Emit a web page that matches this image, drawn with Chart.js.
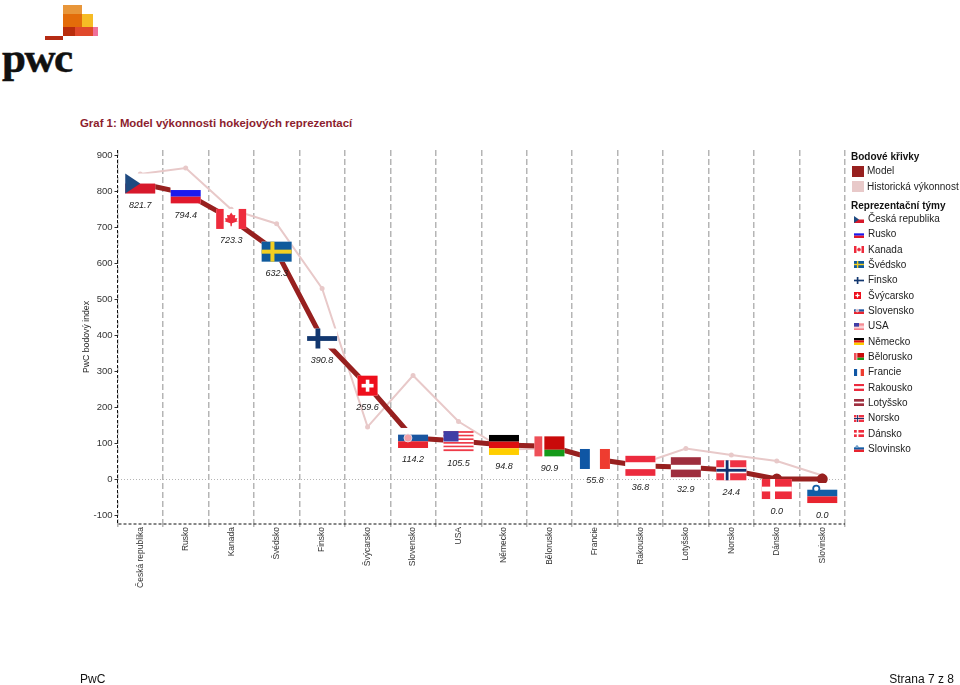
<!DOCTYPE html>
<html lang="cs">
<head>
<meta charset="utf-8">
<title>Graf 1</title>
<script src="https://cdn.jsdelivr.net/npm/chart.js@4"></script>
<style>
  html, body { margin: 0; padding: 0; background: #fff; }
  body { width: 960px; height: 685px; position: relative; overflow: hidden; font-family: "Liberation Sans", Arial, sans-serif; }
  #chartBox { position: absolute; left: 0; top: 0; width: 960px; height: 685px; }
  .abs { position: absolute; white-space: nowrap; line-height: 1; }
  .block { position: absolute; }
  .legendHead { font-size: 10px; font-weight: bold; color: #111; }
  .legendText { font-size: 10px; color: #222; }
</style>
</head>
<body>
<div class="block" style="left:63px;top:5px;width:19px;height:9px;background:#e8963a"></div>
<div class="block" style="left:63px;top:14px;width:19px;height:13px;background:#e36c0a"></div>
<div class="block" style="left:82px;top:14px;width:11px;height:13px;background:#f6bc25"></div>
<div class="block" style="left:63px;top:27px;width:12px;height:9px;background:#b92d0c"></div>
<div class="block" style="left:75px;top:27px;width:18px;height:9px;background:#e0492b"></div>
<div class="block" style="left:93px;top:27px;width:5px;height:9px;background:#f0709a"></div>
<div class="block" style="left:45px;top:36px;width:18px;height:4px;background:#b52b14"></div>
<div class="abs" style="left:2px;top:33px;font:bold 43px 'Liberation Serif',serif;letter-spacing:-1.5px;color:#111;-webkit-text-stroke:0.5px #111">pwc</div>
<div class="abs" style="left:80px;top:118px;font-size:11.4px;font-weight:bold;color:#8c1d2e">Graf 1: Model výkonnosti hokejových reprezentací</div>
<div id="chartBox"><canvas id="teamChart" width="960" height="685"></canvas></div>
<div id="legendBox"></div>
<div class="abs" style="left:80px;top:673px;font-size:12px;color:#111">PwC</div>
<div class="abs" style="right:6px;top:673px;font-size:12px;color:#111">Strana 7 z 8</div>

<script>
// Chart data
const teams = ["Česká republika", "Rusko", "Kanada", "Švédsko", "Finsko", "Švýcarsko", "Slovensko", "USA",
  "Německo", "Bělorusko", "Francie", "Rakousko", "Lotyšsko", "Norsko", "Dánsko", "Slovinsko"];
const modelValues = [821.7, 794.4, 723.3, 632.3, 390.8, 259.6, 114.2, 105.5, 94.8, 90.9, 55.8, 36.8, 32.9, 24.4, 0.0, 0.0];
const historicValues = [848, 865, 750, 710, 530, 145, 288, 160, 82, 85, 55, 42, 85, 67, 50, 10];
const yTickValues = [-100, 0, 100, 200, 300, 400, 500, 600, 700, 800, 900];
const curveNames = ["Model", "Historická výkonnost"];

const MODEL_COLOR = "#97201f";
const HISTORIC_COLOR = "#e8c9c9";

// Draws one flag inside the box x,y,w,h
function drawFlag(ctx, team, x, y, w, h) {
  const bandsH = (colors) => colors.forEach((c, i) => {
    ctx.fillStyle = c;
    ctx.fillRect(x, y + (h * i) / colors.length, w, h / colors.length);
  });
  const bandsV = (colors) => colors.forEach((c, i) => {
    ctx.fillStyle = c;
    ctx.fillRect(x + (w * i) / colors.length, y, w / colors.length, h);
  });
  const cross = (color, cx, t) => {
    ctx.fillStyle = color;
    ctx.fillRect(x + w * cx - t / 2, y, t, h);
    ctx.fillRect(x, y + h / 2 - t / 2, w, t);
  };

  ctx.save();
  ctx.fillStyle = "#fff";
  ctx.fillRect(x, y, w, h);
  switch (team) {
    case "Česká republika":
      ctx.fillStyle = "#d7192b";
      ctx.fillRect(x, y + h / 2, w, h / 2);
      ctx.fillStyle = "#1f4a80";
      ctx.beginPath();
      ctx.moveTo(x, y);
      ctx.lineTo(x + w / 2, y + h / 2);
      ctx.lineTo(x, y + h);
      ctx.fill();
      break;
    case "Rusko":
      bandsH(["#fff", "#1a1aee", "#e0182c"]);
      break;
    case "Kanada":
      ctx.fillStyle = "#ee2b3c";
      ctx.fillRect(x, y, w * 0.25, h);
      ctx.fillRect(x + w * 0.75, y, w * 0.25, h);
      ctx.beginPath();
      [[0.5, 0.18], [0.56, 0.32], [0.64, 0.3], [0.62, 0.46], [0.71, 0.46], [0.68, 0.58], [0.72, 0.62],
        [0.53, 0.72], [0.52, 0.86], [0.48, 0.86], [0.47, 0.72], [0.28, 0.62], [0.32, 0.58], [0.29, 0.46],
        [0.38, 0.46], [0.36, 0.3], [0.44, 0.32]].forEach((p) => ctx.lineTo(x + w * p[0], y + h * p[1]));
      ctx.closePath();
      ctx.fill();
      break;
    case "Švédsko":
      ctx.fillStyle = "#0f5a9c";
      ctx.fillRect(x, y, w, h);
      cross("#f3cf22", 0.36, h * 0.2);
      break;
    case "Finsko":
      cross("#12376f", 0.36, h * 0.24);
      break;
    case "Švýcarsko":
      ctx.fillStyle = "#ee0f1c";
      ctx.fillRect(x, y, w, h);
      ctx.fillStyle = "#fff";
      ctx.fillRect(x + w * 0.41, y + h * 0.2, w * 0.18, h * 0.6);
      ctx.fillRect(x + w * 0.2, y + h * 0.41, w * 0.6, h * 0.18);
      break;
    case "Slovensko":
      bandsH(["#fff", "#1a56a0", "#e8242f"]);
      ctx.fillStyle = "#f0a0a8";
      ctx.beginPath();
      ctx.arc(x + w * 0.33, y + h * 0.5, h * 0.2, 0, Math.PI * 2);
      ctx.fill();
      ctx.strokeStyle = "#e8e8f0";
      ctx.lineWidth = 0.8;
      ctx.stroke();
      break;
    case "USA":
      bandsH(["#ee3a48", "#fff", "#ee3a48", "#fff", "#ee3a48", "#fff", "#ee3a48", "#fff", "#ee3a48", "#fff", "#ee3a48"]);
      ctx.fillStyle = "#3f3fa6";
      ctx.fillRect(x, y, w / 2, h * 0.52);
      break;
    case "Německo":
      bandsH(["#000", "#dd0f10", "#ffce00"]);
      break;
    case "Bělorusko":
      ctx.fillStyle = "#c90a0a";
      ctx.fillRect(x + w * 0.33, y, w * 0.67, h * 0.67);
      ctx.fillStyle = "#159a1a";
      ctx.fillRect(x + w * 0.33, y + h * 0.67, w * 0.67, h * 0.33);
      ctx.fillStyle = "#ee5058";
      ctx.fillRect(x, y, w * 0.26, h);
      break;
    case "Francie":
      bandsV(["#0f56a4", "#fff", "#ee3c30"]);
      break;
    case "Rakousko":
      bandsH(["#ec2b3e", "#fff", "#ec2b3e"]);
      break;
    case "Lotyšsko":
      ctx.fillStyle = "#9e2e3e";
      ctx.fillRect(x, y, w, h * 0.38);
      ctx.fillRect(x, y + h * 0.62, w, h * 0.38);
      break;
    case "Norsko":
      ctx.fillStyle = "#ee3344";
      ctx.fillRect(x, y, w, h);
      cross("#fff", 0.36, h * 0.3);
      cross("#12306e", 0.36, h * 0.14);
      break;
    case "Dánsko":
      ctx.fillStyle = "#ee2b3c";
      ctx.fillRect(x, y, w, h);
      cross("#fff", 0.36, h * 0.24);
      break;
    case "Slovinsko":
      bandsH(["#fff", "#125ea6", "#e8242f"]);
      ctx.fillStyle = "#125ea6";
      ctx.beginPath();
      ctx.arc(x + w * 0.3, y + h * 0.28, h * 0.2, 0, Math.PI * 2);
      ctx.fill();
      ctx.fillStyle = "#fff";
      ctx.beginPath();
      ctx.arc(x + w * 0.3, y + h * 0.28, h * 0.11, 0, Math.PI * 2);
      ctx.fill();
      break;
  }
  ctx.restore();
}

// The two zero scored teams sit lower so the flag does not hide the line end
const flagDrop = { "Dánsko": 10, "Slovinsko": 14 };

const flagPlugin = {
  id: "flags",
  afterDatasetsDraw(chart) {
    const { ctx, scales: { x, y } } = chart;
    teams.forEach((team, i) => {
      const px = x.getPixelForValue(i);
      const py = y.getPixelForValue(modelValues[i]) + (flagDrop[team] || 0);
      const w = team === "Švýcarsko" ? 20 : 30;
      drawFlag(ctx, team, px - w / 2, py - 10, w, 20);
      ctx.save();
      ctx.font = "italic 9px 'Liberation Sans', Arial, sans-serif";
      ctx.fillStyle = "#222";
      ctx.textAlign = "center";
      ctx.textBaseline = "middle";
      ctx.fillText(modelValues[i].toFixed(1), px, py + 22);
      ctx.restore();
    });
  },
};

// Chart.js border does not dash, so the two axis lines are stroked here
const axisLinePlugin = {
  id: "axisLines",
  afterDatasetsDraw(chart) {
    const { ctx, chartArea: a } = chart;
    ctx.save();
    ctx.strokeStyle = "#111";
    ctx.lineWidth = 1;
    ctx.setLineDash([3, 2]);
    ctx.beginPath();
    ctx.moveTo(a.left, a.top);
    ctx.lineTo(a.left, a.bottom);
    ctx.lineTo(a.right, a.bottom);
    ctx.stroke();
    ctx.restore();
  },
};

new Chart(document.getElementById("teamChart"), {
  type: "line",
  data: {
    labels: teams,
    datasets: [
      {
        label: curveNames[0],
        data: modelValues,
        borderColor: MODEL_COLOR,
        backgroundColor: MODEL_COLOR,
        borderWidth: 5,
        pointRadius: 3,
        pointHoverRadius: 3,
        tension: 0,
      },
      {
        label: curveNames[1],
        data: historicValues,
        borderColor: HISTORIC_COLOR,
        backgroundColor: HISTORIC_COLOR,
        borderWidth: 2,
        pointRadius: 1.5,
        tension: 0,
      },
    ],
  },
  options: {
    responsive: false,
    animation: false,
    layout: { padding: { left: 80, top: 150, right: 115, bottom: 0 } },
    plugins: { legend: { display: false }, tooltip: { enabled: false } },
    scales: {
      x: {
        type: "category",
        offset: true,
        afterFit: (scale) => { scale.height = 161; },
        border: { display: false, dash: [6, 3] },
        grid: { offset: true, color: "#b5b5b5", lineWidth: 1.5, tickLength: 3, tickColor: "#b5b5b5" },
        ticks: {
          autoSkip: false,
          minRotation: 90,
          maxRotation: 90,
          padding: 0,
          color: "#333",
          font: { family: "'Liberation Sans', Arial, sans-serif", size: 8.5 },
        },
      },
      y: {
        type: "linear",
        min: -125,
        max: 915,
        afterBuildTicks: (scale) => { scale.ticks = yTickValues.map((value) => ({ value })); },
        afterFit: (scale) => { scale.width = 37.5; },
        title: {
          display: true,
          text: "PwC bodový index",
          color: "#222",
          padding: { top: 1, bottom: 0 },
          font: { family: "'Liberation Sans', Arial, sans-serif", size: 8.7 },
        },
        border: { display: false, dash: [1, 2] },
        grid: {
          color: (c) => (c.tick && c.tick.value === 0 ? "#b5b5b5" : "transparent"),
          tickColor: "#333",
          tickLength: 3,
        },
        ticks: {
          padding: 2,
          color: "#333",
          font: { family: "'Liberation Sans', Arial, sans-serif", size: 9.5 },
        },
      },
    },
  },
  plugins: [flagPlugin, axisLinePlugin],
});

// Side legend
function addText(parent, cls, text, x, centerY) {
  const el = document.createElement("div");
  el.className = "abs " + cls;
  el.textContent = text;
  el.style.left = x + "px";
  el.style.top = centerY - 5 + "px";
  parent.appendChild(el);
}

function buildLegend() {
  const box = document.getElementById("legendBox");
  addText(box, "legendHead", "Bodové křivky", 851, 157);
  addText(box, "legendHead", "Reprezentační týmy", 851, 206);

  [MODEL_COLOR, HISTORIC_COLOR].forEach((color, i) => {
    const centerY = 171 + i * 15.5;
    const swatch = document.createElement("div");
    swatch.className = "block";
    swatch.style.cssText = `left:852px;top:${centerY - 5.5}px;width:12px;height:11px;background:${color}`;
    box.appendChild(swatch);
    addText(box, "legendText", curveNames[i], 867, centerY);
  });

  teams.forEach((team, i) => {
    const centerY = 219 + i * 15.33;
    const flag = document.createElement("canvas");
    flag.width = 10;
    flag.height = 7;
    flag.className = "block";
    flag.style.left = "854px";
    flag.style.top = Math.round(centerY - 3.5) + "px";
    drawFlag(flag.getContext("2d"), team, 0, 0, team === "Švýcarsko" ? 7 : 10, 7);
    box.appendChild(flag);
    addText(box, "legendText", team, 868, centerY);
  });
}

buildLegend();
</script>
</body>
</html>
